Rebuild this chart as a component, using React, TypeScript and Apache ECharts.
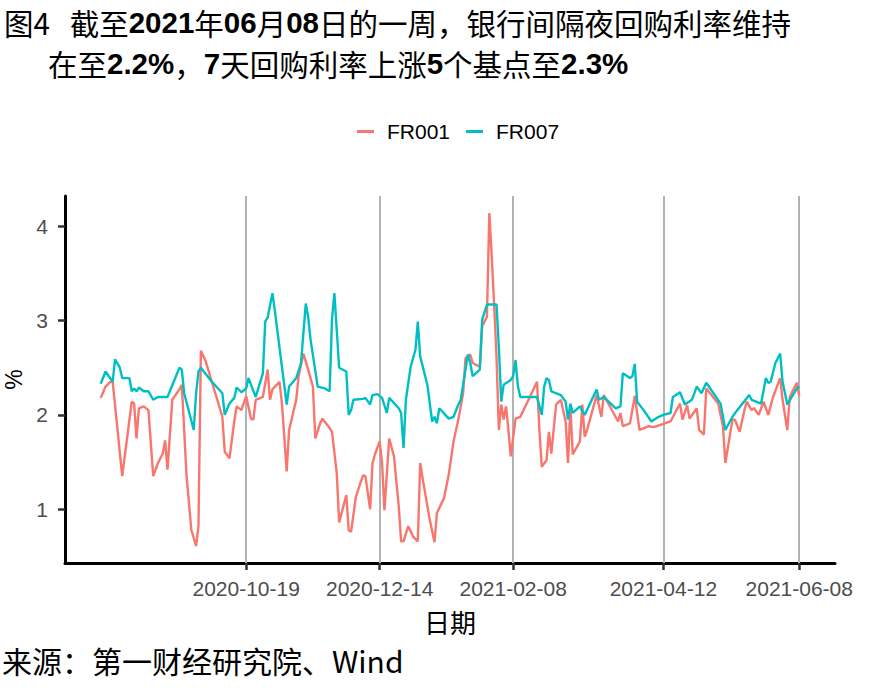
import React, { useEffect, useRef } from "react";
import * as echarts from "echarts";

const TITLE_LINE1 = "图4   截至{b|2021}年{b|06}月{b|08}日的一周，银行间隔夜回购利率维持";
const TITLE_LINE2 = "在至{b|2.2%}，{b|7}天回购利率上涨{b|5}个基点至{b|2.3%}";
const SOURCE_TEXT = "来源：第一财经研究院、Wind";
const X_NAME = "日期";
const Y_NAME = "%";
const SERIES_NAMES = ["FR001", "FR007"];
const X_TICKS = ["2020-10-19", "2020-12-14", "2021-02-08", "2021-04-12", "2021-06-08"];
const Y_TICKS = [1, 2, 3, 4];
const X_RANGE = ["2020-08-04", "2021-06-23"];
const Y_RANGE = [0.43, 4.32];

const FR001: [string, number][] = [
  ["2020-08-19", 2.18], ["2020-08-21", 2.3], ["2020-08-23", 2.35], ["2020-08-24", 2.35],
  ["2020-08-28", 1.35], ["2020-09-01", 2.14], ["2020-09-02", 2.12], ["2020-09-03", 1.75],
  ["2020-09-04", 2.07], ["2020-09-06", 2.09], ["2020-09-08", 2.05], ["2020-09-10", 1.35],
  ["2020-09-12", 1.49], ["2020-09-14", 1.59], ["2020-09-15", 1.73], ["2020-09-16", 1.42],
  ["2020-09-18", 2.16], ["2020-09-21", 2.27], ["2020-09-22", 2.32], ["2020-09-24", 1.35],
  ["2020-09-26", 0.78], ["2020-09-28", 0.61], ["2020-09-29", 0.83], ["2020-09-30", 2.68],
  ["2020-10-02", 2.57], ["2020-10-04", 2.4], ["2020-10-07", 2.15], ["2020-10-09", 1.98],
  ["2020-10-10", 1.61], ["2020-10-12", 1.54], ["2020-10-14", 1.93], ["2020-10-15", 2.09],
  ["2020-10-17", 2.05], ["2020-10-19", 2.2], ["2020-10-21", 1.96], ["2020-10-22", 1.95],
  ["2020-10-23", 2.16], ["2020-10-26", 2.19], ["2020-10-28", 2.48], ["2020-10-29", 2.16],
  ["2020-10-30", 2.27], ["2020-11-02", 2.35], ["2020-11-03", 2.12], ["2020-11-05", 1.4],
  ["2020-11-06", 1.84], ["2020-11-09", 2.16], ["2020-11-10", 2.41], ["2020-11-12", 2.65],
  ["2020-11-14", 2.48], ["2020-11-16", 2.3], ["2020-11-17", 1.75], ["2020-11-19", 1.91],
  ["2020-11-20", 1.96], ["2020-11-23", 1.86], ["2020-11-24", 1.82], ["2020-11-26", 1.38],
  ["2020-11-27", 0.86], ["2020-11-30", 1.15], ["2020-12-01", 0.78], ["2020-12-02", 0.76],
  ["2020-12-04", 1.13], ["2020-12-07", 1.36], ["2020-12-08", 1.35], ["2020-12-10", 1.0],
  ["2020-12-11", 1.49], ["2020-12-12", 1.58], ["2020-12-14", 1.72], ["2020-12-15", 1.49],
  ["2020-12-16", 0.99], ["2020-12-18", 1.75], ["2020-12-20", 1.56], ["2020-12-22", 1.03],
  ["2020-12-23", 0.66], ["2020-12-24", 0.66], ["2020-12-26", 0.82], ["2020-12-28", 0.71],
  ["2020-12-30", 0.66], ["2020-12-31", 1.49], ["2021-01-01", 1.33], ["2021-01-04", 0.89],
  ["2021-01-06", 0.65], ["2021-01-07", 0.96], ["2021-01-10", 1.12], ["2021-01-12", 1.37],
  ["2021-01-14", 1.72], ["2021-01-16", 1.95], ["2021-01-18", 2.23], ["2021-01-19", 2.6],
  ["2021-01-21", 2.64], ["2021-01-22", 2.55], ["2021-01-25", 2.51], ["2021-01-26", 2.94],
  ["2021-01-28", 3.04], ["2021-01-29", 4.14], ["2021-01-30", 3.68], ["2021-01-31", 3.18],
  ["2021-02-01", 2.62], ["2021-02-02", 1.84], ["2021-02-03", 2.11], ["2021-02-04", 1.95],
  ["2021-02-05", 2.09], ["2021-02-06", 1.84], ["2021-02-07", 1.56], ["2021-02-09", 1.96],
  ["2021-02-11", 1.98], ["2021-02-15", 2.19], ["2021-02-18", 2.35], ["2021-02-19", 1.84],
  ["2021-02-20", 1.45], ["2021-02-22", 1.52], ["2021-02-23", 1.82], ["2021-02-24", 1.59],
  ["2021-02-26", 2.11], ["2021-02-28", 2.16], ["2021-03-02", 1.93], ["2021-03-03", 1.49],
  ["2021-03-04", 2.09], ["2021-03-05", 1.58], ["2021-03-08", 1.72], ["2021-03-09", 2.11],
  ["2021-03-10", 1.77], ["2021-03-11", 1.84], ["2021-03-15", 2.21], ["2021-03-17", 1.98],
  ["2021-03-18", 2.21], ["2021-03-21", 2.07], ["2021-03-24", 1.93], ["2021-03-25", 2.02],
  ["2021-03-26", 1.88], ["2021-03-29", 1.91], ["2021-03-31", 2.2], ["2021-04-02", 1.84],
  ["2021-04-06", 1.88], ["2021-04-08", 1.87], ["2021-04-15", 1.93], ["2021-04-19", 2.12],
  ["2021-04-20", 1.95], ["2021-04-22", 2.1], ["2021-04-23", 1.96], ["2021-04-26", 2.07],
  ["2021-04-27", 1.84], ["2021-04-29", 1.79], ["2021-04-30", 2.28], ["2021-05-05", 2.12],
  ["2021-05-07", 1.88], ["2021-05-08", 1.49], ["2021-05-11", 1.95], ["2021-05-12", 1.95],
  ["2021-05-14", 1.82], ["2021-05-16", 2.05], ["2021-05-17", 2.14], ["2021-05-19", 2.05],
  ["2021-05-20", 2.07], ["2021-05-22", 2.0], ["2021-05-24", 2.14], ["2021-05-26", 2.0],
  ["2021-05-28", 2.19], ["2021-05-31", 2.39], ["2021-06-01", 2.16], ["2021-06-03", 1.84],
  ["2021-06-04", 2.19], ["2021-06-07", 2.34], ["2021-06-08", 2.2],
];

const FR007: [string, number][] = [
  ["2020-08-19", 2.33], ["2020-08-21", 2.46], ["2020-08-24", 2.35], ["2020-08-25", 2.59],
  ["2020-08-27", 2.5], ["2020-08-28", 2.39], ["2020-08-31", 2.39], ["2020-09-01", 2.25],
  ["2020-09-02", 2.28], ["2020-09-03", 2.25], ["2020-09-04", 2.29], ["2020-09-06", 2.25],
  ["2020-09-08", 2.25], ["2020-09-10", 2.16], ["2020-09-12", 2.19], ["2020-09-16", 2.19],
  ["2020-09-21", 2.5], ["2020-09-22", 2.48], ["2020-09-23", 2.23], ["2020-09-27", 1.84],
  ["2020-09-28", 2.23], ["2020-09-29", 2.46], ["2020-09-30", 2.5], ["2020-10-04", 2.37],
  ["2020-10-09", 2.23], ["2020-10-10", 2.0], ["2020-10-12", 2.12], ["2020-10-14", 2.18],
  ["2020-10-15", 2.29], ["2020-10-17", 2.24], ["2020-10-19", 2.28], ["2020-10-20", 2.39],
  ["2020-10-21", 2.32], ["2020-10-23", 2.19], ["2020-10-26", 2.44], ["2020-10-27", 2.99],
  ["2020-10-28", 3.03], ["2020-10-30", 3.29], ["2020-10-31", 3.11], ["2020-11-03", 2.51],
  ["2020-11-05", 2.11], ["2020-11-06", 2.3], ["2020-11-09", 2.39], ["2020-11-11", 2.55],
  ["2020-11-13", 3.18], ["2020-11-14", 3.04], ["2020-11-15", 2.8], ["2020-11-18", 2.3],
  ["2020-11-21", 2.28], ["2020-11-23", 2.25], ["2020-11-24", 3.01], ["2020-11-25", 3.29],
  ["2020-11-26", 2.9], ["2020-11-27", 2.5], ["2020-11-30", 2.46], ["2020-12-01", 2.0],
  ["2020-12-02", 2.05], ["2020-12-03", 2.16], ["2020-12-07", 2.17], ["2020-12-08", 2.18],
  ["2020-12-10", 2.11], ["2020-12-11", 2.21], ["2020-12-13", 2.22], ["2020-12-15", 2.18],
  ["2020-12-17", 2.02], ["2020-12-18", 2.18], ["2020-12-22", 2.07], ["2020-12-23", 2.02],
  ["2020-12-24", 1.65], ["2020-12-25", 2.16], ["2020-12-27", 2.51], ["2020-12-29", 2.69],
  ["2020-12-30", 2.99], ["2020-12-31", 2.62], ["2021-01-03", 2.32], ["2021-01-05", 1.93],
  ["2021-01-06", 1.98], ["2021-01-07", 1.91], ["2021-01-08", 2.07], ["2021-01-12", 1.96],
  ["2021-01-14", 1.98], ["2021-01-16", 2.11], ["2021-01-17", 2.16], ["2021-01-19", 2.48],
  ["2021-01-20", 2.64], ["2021-01-21", 2.55], ["2021-01-22", 2.41], ["2021-01-25", 2.48],
  ["2021-01-26", 3.01], ["2021-01-28", 3.17], ["2021-02-01", 3.17], ["2021-02-02", 2.72],
  ["2021-02-03", 2.14], ["2021-02-04", 2.32], ["2021-02-07", 2.37], ["2021-02-08", 2.41],
  ["2021-02-09", 2.58], ["2021-02-10", 2.3], ["2021-02-11", 2.19], ["2021-02-18", 2.19],
  ["2021-02-20", 2.0], ["2021-02-21", 2.3], ["2021-02-22", 2.39], ["2021-02-23", 2.37],
  ["2021-02-24", 2.25], ["2021-02-28", 2.21], ["2021-03-02", 2.14], ["2021-03-03", 1.95],
  ["2021-03-04", 2.12], ["2021-03-05", 2.02], ["2021-03-08", 2.09], ["2021-03-10", 2.0],
  ["2021-03-15", 2.27], ["2021-03-16", 2.16], ["2021-03-18", 2.19], ["2021-03-23", 2.07],
  ["2021-03-25", 2.09], ["2021-03-26", 2.44], ["2021-03-29", 2.39], ["2021-03-30", 2.41],
  ["2021-03-31", 2.54], ["2021-04-01", 2.14], ["2021-04-04", 2.04], ["2021-04-07", 1.93],
  ["2021-04-10", 1.98], ["2021-04-12", 2.0], ["2021-04-15", 2.02], ["2021-04-16", 2.19],
  ["2021-04-19", 2.24], ["2021-04-21", 2.11], ["2021-04-24", 2.16], ["2021-04-26", 2.3],
  ["2021-04-28", 2.23], ["2021-04-30", 2.34], ["2021-05-06", 2.12], ["2021-05-08", 1.84],
  ["2021-05-11", 1.98], ["2021-05-13", 2.05], ["2021-05-18", 2.21], ["2021-05-19", 2.16],
  ["2021-05-23", 2.12], ["2021-05-25", 2.39], ["2021-05-26", 2.34], ["2021-05-27", 2.35],
  ["2021-05-29", 2.55], ["2021-05-31", 2.65], ["2021-06-01", 2.35], ["2021-06-03", 2.11],
  ["2021-06-07", 2.28], ["2021-06-08", 2.3],
];

const COLORS = ["#F8766D", "#00BFC4"];
const CJK = "'Noto Sans CJK SC', sans-serif";
const LATIN = "'Liberation Sans', Arial, sans-serif";

function toTime(s: string): number {
  const [y, m, d] = s.split("-").map(Number);
  return new Date(y, m - 1, d).getTime();
}
function fmt(v: number): string {
  const d = new Date(v);
  const p = (n: number) => (n < 10 ? "0" + n : "" + n);
  return `${d.getFullYear()}-${p(d.getMonth() + 1)}-${p(d.getDate())}`;
}

export default function App() {
  const ref = useRef<HTMLDivElement>(null);
  useEffect(() => {
    if (!ref.current) return;
    const chart = echarts.init(ref.current, undefined, { renderer: "svg" });
    const xTicks = X_TICKS.map(toTime);
    const richB = { fontFamily: LATIN, fontWeight: "bold" as const, fontSize: 29.5, fill: "#000" };
    chart.setOption({
      animation: false,
      backgroundColor: "#fff",
      grid: { left: 65, right: 50, top: 196, bottom: 125, containLabel: false, outerBoundsMode: "none" },
      legend: {
        left: 352,
        top: 116,
        icon: "rect",
        itemWidth: 17,
        itemHeight: 3,
        itemGap: 16,
        data: SERIES_NAMES,
        textStyle: { fontSize: 21, color: "#000", fontFamily: LATIN, padding: [0, 0, 0, 8] },
      },
      xAxis: {
        type: "value",
        min: toTime(X_RANGE[0]),
        max: toTime(X_RANGE[1]),
        scale: true,
        name: X_NAME,
        nameLocation: "middle",
        nameGap: 45,
        nameTextStyle: { fontSize: 26, color: "#000", fontFamily: CJK },
        axisLine: { show: true, onZero: false, lineStyle: { color: "#000", width: 3 } },
        axisTick: { show: true, length: 7, customValues: xTicks, lineStyle: { color: "#333", width: 2.5 } },
        axisLabel: {
          customValues: xTicks,
          formatter: (v: number) => fmt(v),
          fontSize: 21,
          color: "#4d4d4d",
          fontFamily: LATIN,
          margin: 15,
          hideOverlap: false,
          showMinLabel: true,
          showMaxLabel: true,
        },
        splitLine: { show: false },
      },
      yAxis: {
        type: "value",
        min: Y_RANGE[0],
        max: Y_RANGE[1],
        name: Y_NAME,
        nameLocation: "middle",
        nameRotate: 90,
        nameGap: 40,
        nameTextStyle: { fontSize: 23, color: "#000", fontFamily: LATIN },
        axisLine: { show: true, onZero: false, lineStyle: { color: "#000", width: 3 } },
        axisTick: { show: true, length: 7, customValues: Y_TICKS, lineStyle: { color: "#333", width: 2.5 } },
        axisLabel: {
          customValues: Y_TICKS,
          fontSize: 21,
          color: "#4d4d4d",
          fontFamily: LATIN,
          margin: 17,
        },
        splitLine: { show: false },
      },
      series: [
        {
          name: SERIES_NAMES[0],
          type: "line",
          data: FR001.map(([d, v]) => [toTime(d), v]),
          showSymbol: false,
          color: COLORS[0],
          lineStyle: { width: 2.4, color: COLORS[0] },
          z: 3,
          markLine: {
            silent: true,
            z: 1,
            symbol: ["none", "none"],
            label: { show: false },
            lineStyle: { color: "#b3b3b3", width: 2, type: "solid" },
            emphasis: { disabled: true },
            data: xTicks.map((t) => ({ xAxis: t })),
          },
        },
        {
          name: SERIES_NAMES[1],
          type: "line",
          data: FR007.map(([d, v]) => [toTime(d), v]),
          showSymbol: false,
          color: COLORS[1],
          lineStyle: { width: 2.4, color: COLORS[1] },
          z: 4,
        },
      ],
      graphic: [
        {
          type: "text",
          x: 4,
          y: 22,
          style: {
            text: TITLE_LINE1,
            fontSize: 29.5,
            fontFamily: CJK,
            fill: "#000",
            verticalAlign: "middle",
            rich: { b: richB },
          },
        },
        {
          type: "text",
          x: 48,
          y: 63,
          style: {
            text: TITLE_LINE2,
            fontSize: 29.5,
            fontFamily: CJK,
            fill: "#000",
            verticalAlign: "middle",
            rich: { b: richB },
          },
        },
        {
          type: "text",
          x: 2,
          y: 660,
          style: {
            text: SOURCE_TEXT,
            fontSize: 30,
            fontFamily: CJK,
            fill: "#000",
            verticalAlign: "middle",
          },
        },
      ],
    });
    return () => chart.dispose();
  }, []);
  return <div ref={ref} style={{ width: 885, height: 688, position: "absolute", left: 0, top: 0 }} />;
}
